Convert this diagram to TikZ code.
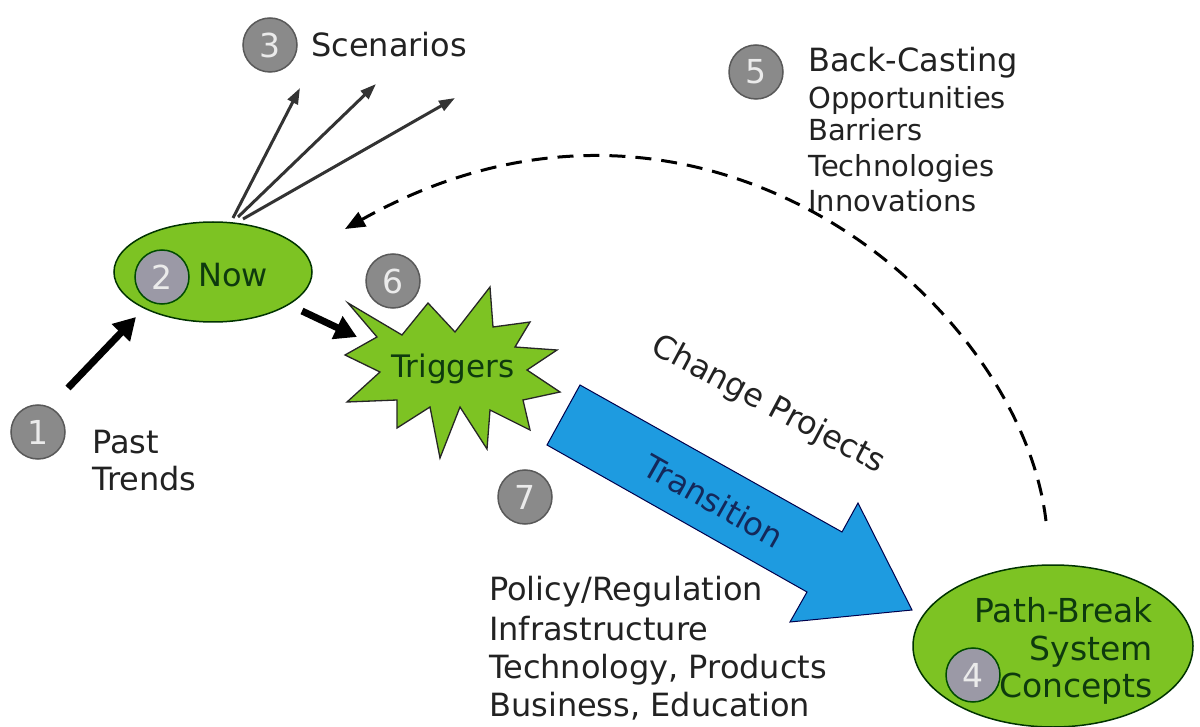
\documentclass[tikz,border=0pt]{standalone}
\usepackage{fontspec}
\setmainfont{DejaVu Sans}
\usetikzlibrary{arrows.meta,shapes.geometric}
\definecolor{limegreen}{HTML}{7DC323}
\definecolor{darkgreentext}{HTML}{0E3A0E}
\definecolor{arrowblue}{HTML}{1E9BE0}
\definecolor{navytext}{HTML}{14285A}
\definecolor{numgray}{HTML}{8A8A8A}
\definecolor{numgraylav}{HTML}{9B99A6}
\definecolor{inktext}{HTML}{222222}
\newcommand\myfs[2]{\fontsize{#1}{#2}\selectfont}
\tikzset{
  blob/.style={ellipse, fill=limegreen, draw=black!80!green, line width=1.5pt, inner sep=0pt},
  numc/.style={circle, fill=numgray, draw=black!65, line width=1.5pt, minimum size=54pt, inner sep=0pt, text=white!92!black, font=\myfs{33}{33}},
  numcin/.style={numc, fill=numgraylav, draw=black!70!green},
  label/.style={inner sep=0pt, text=inktext, font=\myfs{32}{37}},
  smalllabel/.style={inner sep=0pt, text=inktext, font=\myfs{29}{34}},
  greenlabel/.style={inner sep=0pt, text=darkgreentext, font=\myfs{32}{37}},
  bigarrow/.style={line width=7pt, black, -{Triangle[length=22pt,width=24pt]}},
  scenarrow/.style={line width=3pt, black!80, -{Triangle[length=16pt,width=11pt]}},
  backarrow/.style={line width=3pt, black, dash pattern=on 16pt off 10pt, -{Triangle[length=20pt,width=16pt]}},
}
\begin{document}
\begin{tikzpicture}[x=1pt,y=-1pt]
\useasboundingbox (0,0) rectangle (1200,727);
\fill[white] (0,0) rectangle (1200,727);

% ---- Now ellipse
\node[blob, minimum width=198pt, minimum height=100pt] (now) at (213,272) {};
\node[numcin] (c2) at (162,277) {2};
\node[greenlabel] (nowtxt) at (233,275) {Now};

% ---- Past trends
\node[numc] (c1) at (38,432) {1};
\node[label, anchor=base west] (past) at (92,453) {Past};
\node[label, anchor=base west] (trends) at (92,490) {Trends};
\coordinate (pastA) at (68,388);
\coordinate (pastB) at (136,317);
\draw[bigarrow] (pastA) -- (pastB);

% ---- Scenarios
\node[numc] (c3) at (270,45) {3};
\node[label, anchor=base west] (scen) at (311,57) {Scenarios};
\coordinate (s0a) at (233,218);
\coordinate (s0b) at (238,217);
\coordinate (s0c) at (243,219);
\coordinate (s1) at (300,88);
\coordinate (s2) at (376,84);
\coordinate (s3) at (455,98);
\draw[scenarrow] (s0a) -- (s1);
\draw[scenarrow] (s0b) -- (s2);
\draw[scenarrow] (s0c) -- (s3);

% ---- Back-casting
\node[numc] (c5) at (756,72) {5};
\node[label, anchor=base west] (bc) at (808,72) {Back-Casting};
\node[smalllabel, anchor=base west] (bc1) at (808,109) {Opportunities};
\node[smalllabel, anchor=base west] (bc2) at (808,141) {Barriers};
\node[smalllabel, anchor=base west] (bc3) at (808,177) {Technologies};
\node[smalllabel, anchor=base west] (bc4) at (808,212) {Innovations};

% ---- Triggers star
\fill[limegreen, draw=black!85, line width=1.3pt]
  (348,303) -- (402,335) -- (428,303) -- (455,332) -- (490,287) -- (493,327)
  -- (530,322) -- (515,347) -- (557,350) -- (527,370) -- (560,392) -- (523,400)
  -- (530,430) -- (490,410) -- (487,449) -- (460,407) -- (440,458) -- (430,407)
  -- (397,428) -- (397,400) -- (347,402) -- (380,372) -- (345,355) -- (377,337) -- cycle;
\node[greenlabel, font=\myfs{31}{37}] (trig) at (453,369) {Triggers};
\node[numc] (c6) at (393,281) {6};
\coordinate (nowOut) at (302,311);
\coordinate (trigIn) at (357,337);
\draw[bigarrow] (nowOut) -- (trigIn);

% ---- Transition arrow
\fill[arrowblue, draw=black!70!blue, line width=1pt]
  (580,385) -- (842,532) -- (858,503) -- (912,610) -- (790,622) -- (807,592) -- (547,445) -- cycle;
\node[inner sep=0pt, text=navytext, font=\myfs{32}{37}, rotate=-29.5] (trans) at (714,501) {Transition};
\node[label, rotate=-28] (chg) at (768,405) {Change Projects};
\node[numc] (c7) at (525,497) {7};

% ---- Policy list
\node[label, anchor=base west] (p1) at (489,600) {Policy/Regulation};
\node[label, anchor=base west] (p2) at (489,640) {Infrastructure};
\node[label, anchor=base west] (p3) at (489,678) {Technology, Products};
\node[label, anchor=base west] (p4) at (489,716) {Business, Education};

% ---- Path-break ellipse
\node[blob, minimum width=280pt, minimum height=162pt] (pb) at (1053,646) {};
\node[greenlabel, font=\myfs{33}{37}, anchor=base east] (pb1) at (1153,622) {Path-Break};
\node[greenlabel, font=\myfs{33}{37}, anchor=base east] (pb2) at (1153,660) {System};
\node[greenlabel, font=\myfs{33}{37}, anchor=base east] (pb3) at (1153,697) {Concepts};
\node[numcin] (c4) at (973,675) {4};

% ---- Back-casting dashed arc
\coordinate (bcStart) at (1046,521);
\coordinate (bcEnd) at (345,229);
\draw[backarrow] (bcStart) .. controls (1020,300) and (700,30) .. (bcEnd);
\end{tikzpicture}
\end{document}
